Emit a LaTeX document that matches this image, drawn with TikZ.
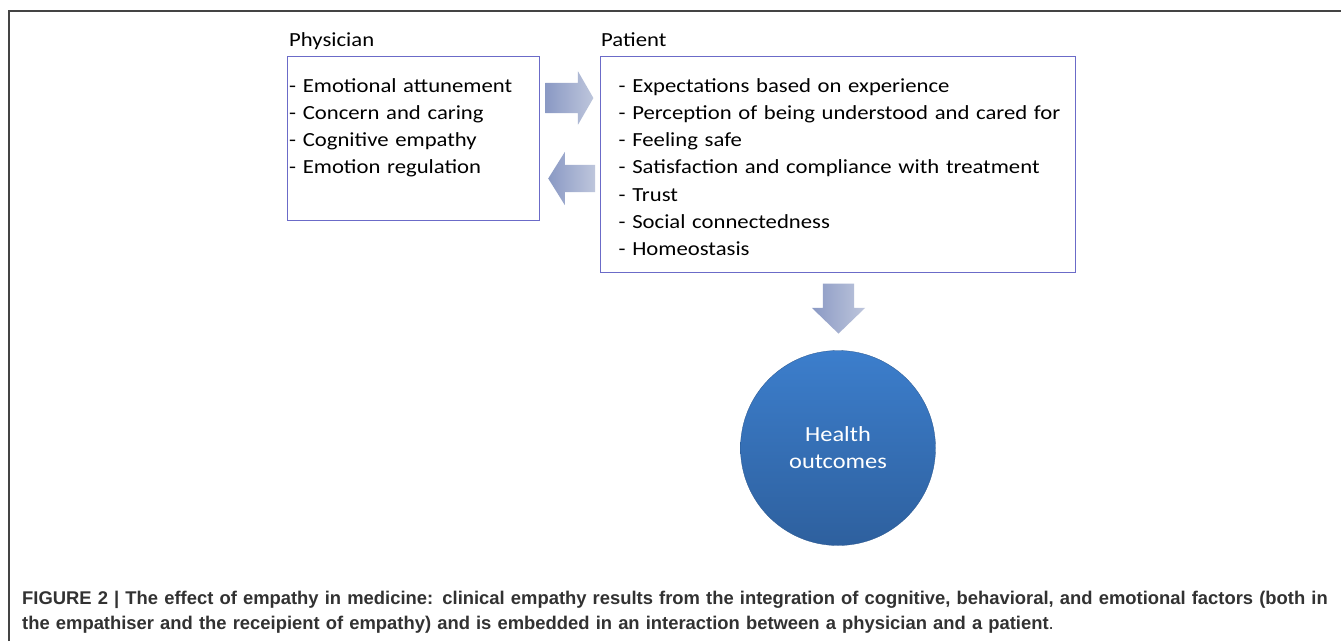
\documentclass[tikz,border=0pt]{standalone}
\usepackage{fontspec}
\setmainfont{Carlito}[FakeStretch=1.135]
\newfontfamily\captionfont{Liberation Sans}
\usetikzlibrary{positioning, shapes.arrows}
\definecolor{boxline}{RGB}{107,107,200}
\definecolor{arrowdark}{RGB}{138,153,196}
\definecolor{arrowlight}{RGB}{190,198,220}
\definecolor{circletop}{RGB}{60,126,204}
\definecolor{circlebottom}{RGB}{46,96,158}
\definecolor{frameline}{RGB}{68,68,68}
\definecolor{captiontext}{RGB}{50,50,50}
\tikzset{
  listbox/.style={draw=boxline, line width=1pt, anchor=north west, inner sep=0pt},
  listtext/.style={align=left, inner sep=0pt, font=\fontsize{20}{27.3}\selectfont},
  heading/.style={inner sep=0pt, font=\fontsize{20}{27.3}\selectfont},
  blockarrow/.style={single arrow, draw=none, single arrow head indent=0pt,
    left color=arrowdark, right color=arrowlight},
}
\begin{document}
\begin{tikzpicture}[x=1pt, y=-1pt]
\useasboundingbox[fill=white] (0,0) rectangle (1341,641);
\draw[frameline, line width=1.5pt] (9,641) |- (1341,11);
% the two boxes
\node[listbox, minimum width=252pt, minimum height=164pt] (phys) at (287,56) {};
\node[listbox, minimum width=475pt, minimum height=216pt] (pat) at (600,56) {};
\node[heading, above right=10pt and 2pt of phys.north west, anchor=base west] (physhead) {Physician};
\node[heading, above right=10pt and 1pt of pat.north west, anchor=base west] (pathead) {Patient};
\node[listtext, text width=245pt, below right=36pt and 2pt of phys.north west, anchor=base west] (physlist) {%
  - Emotional attunement\\
  - Concern and caring\\
  - Cognitive empathy\\
  - Emotion regulation};
\node[listtext, text width=450pt, below right=36pt and 18.5pt of pat.north west, anchor=base west] (patlist) {%
  - Expectations based on experience\\
  - Perception of being understood and cared for\\
  - Feeling safe\\
  - Satisfaction and compliance with treatment\\
  - Trust\\
  - Social connectedness\\
  - Homeostasis};
% block arrows
\node[blockarrow, inner xsep=0pt, inner ysep=15pt, minimum height=48pt, minimum width=53pt,
  single arrow head extend=11.5pt, single arrow tip angle=120] (toPat) at (565,98) {};
\node[blockarrow, inner xsep=0pt, inner ysep=13.5pt, minimum height=47pt, minimum width=53pt,
  single arrow head extend=13pt, single arrow tip angle=116, shape border rotate=180] (toPhys) at (576,178.5) {};
\node[blockarrow, inner xsep=15.5pt, inner ysep=0pt, minimum height=50pt, minimum width=53pt,
  single arrow head extend=11pt, single arrow tip angle=92, shape border rotate=270] (toOut) at (838.5,301) {};
% outcome
\node[circle, minimum size=195pt, inner sep=0pt, top color=circletop, bottom color=circlebottom,
  draw=circlebottom!90!black, line width=0.3pt, text=white, align=center,
  font=\fontsize{21.5}{27}\selectfont] (health) at (838,448) {Health\\outcomes};
% caption
\node[anchor=base west, inner sep=0pt, text width=1320pt, align=left, text=captiontext,
  font=\captionfont\bfseries\fontsize{18.4}{25}\selectfont] (caption) at (22,604) {%
  FIGURE 2 | The effect of empathy in medicine: clinical empathy results from the integration of cognitive, behavioral, and emotional factors (both in\\
  the empathiser and the receipient of empathy) and is embedded in an interaction between a physician and a patient{\mdseries.}};
\end{tikzpicture}
\end{document}
